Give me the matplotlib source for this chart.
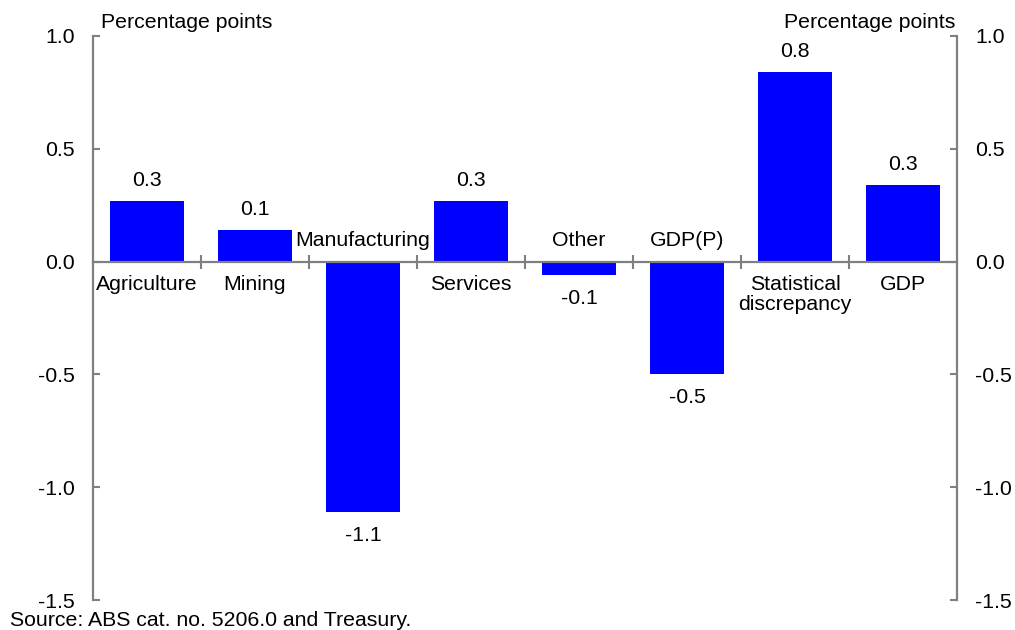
import matplotlib.pyplot as plt

plt.rcParams["font.family"] = ["Liberation Sans", "DejaVu Sans"]

categories = ["Agriculture", "Mining", "Manufacturing", "Services", "Other",
              "GDP(P)", "Statistical\ndiscrepancy", "GDP"]
values = [0.27, 0.14, -1.11, 0.27, -0.06, -0.50, 0.84, 0.34]
value_labels = ["0.3", "0.1", "-1.1", "0.3", "-0.1", "-0.5", "0.8", "0.3"]
yticks = [-1.5, -1.0, -0.5, 0.0, 0.5, 1.0]

grey = "#808080"
fs = 15.3

fig = plt.figure(figsize=(10.15, 6.3), dpi=100)
ax = fig.add_axes([0.0916, 0.0476, 0.8513, 0.8954])

x = list(range(len(categories)))
ax.bar(x, values, width=0.68, color="#0000ff", zorder=2)

ax.set_xlim(-0.5, len(categories) - 0.5)
ax.set_ylim(-1.5, 1.0)

# zero line with boundary ticks
ax.spines["top"].set_visible(False)
ax.spines["bottom"].set_position(("data", 0))
for s in ["left", "right", "bottom"]:
    ax.spines[s].set_color(grey)
    ax.spines[s].set_linewidth(1.6)
ax.set_xticks([i + 0.5 for i in x[:-1]])
ax.set_xticklabels([])
ax.tick_params(axis="x", direction="inout", length=10, width=1.5, color=grey)

ax.set_yticks(yticks)
ax.set_yticklabels([f"{v:.1f}" for v in yticks])
ax.tick_params(axis="y", direction="in", length=5, width=1.5, color=grey,
               left=True, right=True, labelleft=True, labelright=True,
               labelsize=fs, pad=13)

for i, (v, lab, cat) in enumerate(zip(values, value_labels, categories)):
    if v >= 0:
        ax.annotate(lab, (i, v), xytext=(0, 8), textcoords="offset points",
                    ha="center", va="bottom", fontsize=fs)
        ax.annotate(cat, (i, 0), xytext=(0, -10), textcoords="offset points",
                    ha="center", va="top", fontsize=fs, linespacing=1.05)
    else:
        ax.annotate(lab, (i, v), xytext=(0, -10), textcoords="offset points",
                    ha="center", va="top", fontsize=fs)
        ax.annotate(cat, (i, 0), xytext=(0, 8), textcoords="offset points",
                    ha="center", va="bottom", fontsize=fs)

fig.text(101 / 1015, 1 - 28 / 630, "Percentage points", ha="left", va="baseline", fontsize=fs)
fig.text(955 / 1015, 1 - 28 / 630, "Percentage points", ha="right", va="baseline", fontsize=fs)
fig.text(10 / 1015, 1 - 626 / 630, "Source: ABS cat. no. 5206.0 and Treasury.",
         ha="left", va="baseline", fontsize=fs)

fig.savefig("out.png", dpi=100)
